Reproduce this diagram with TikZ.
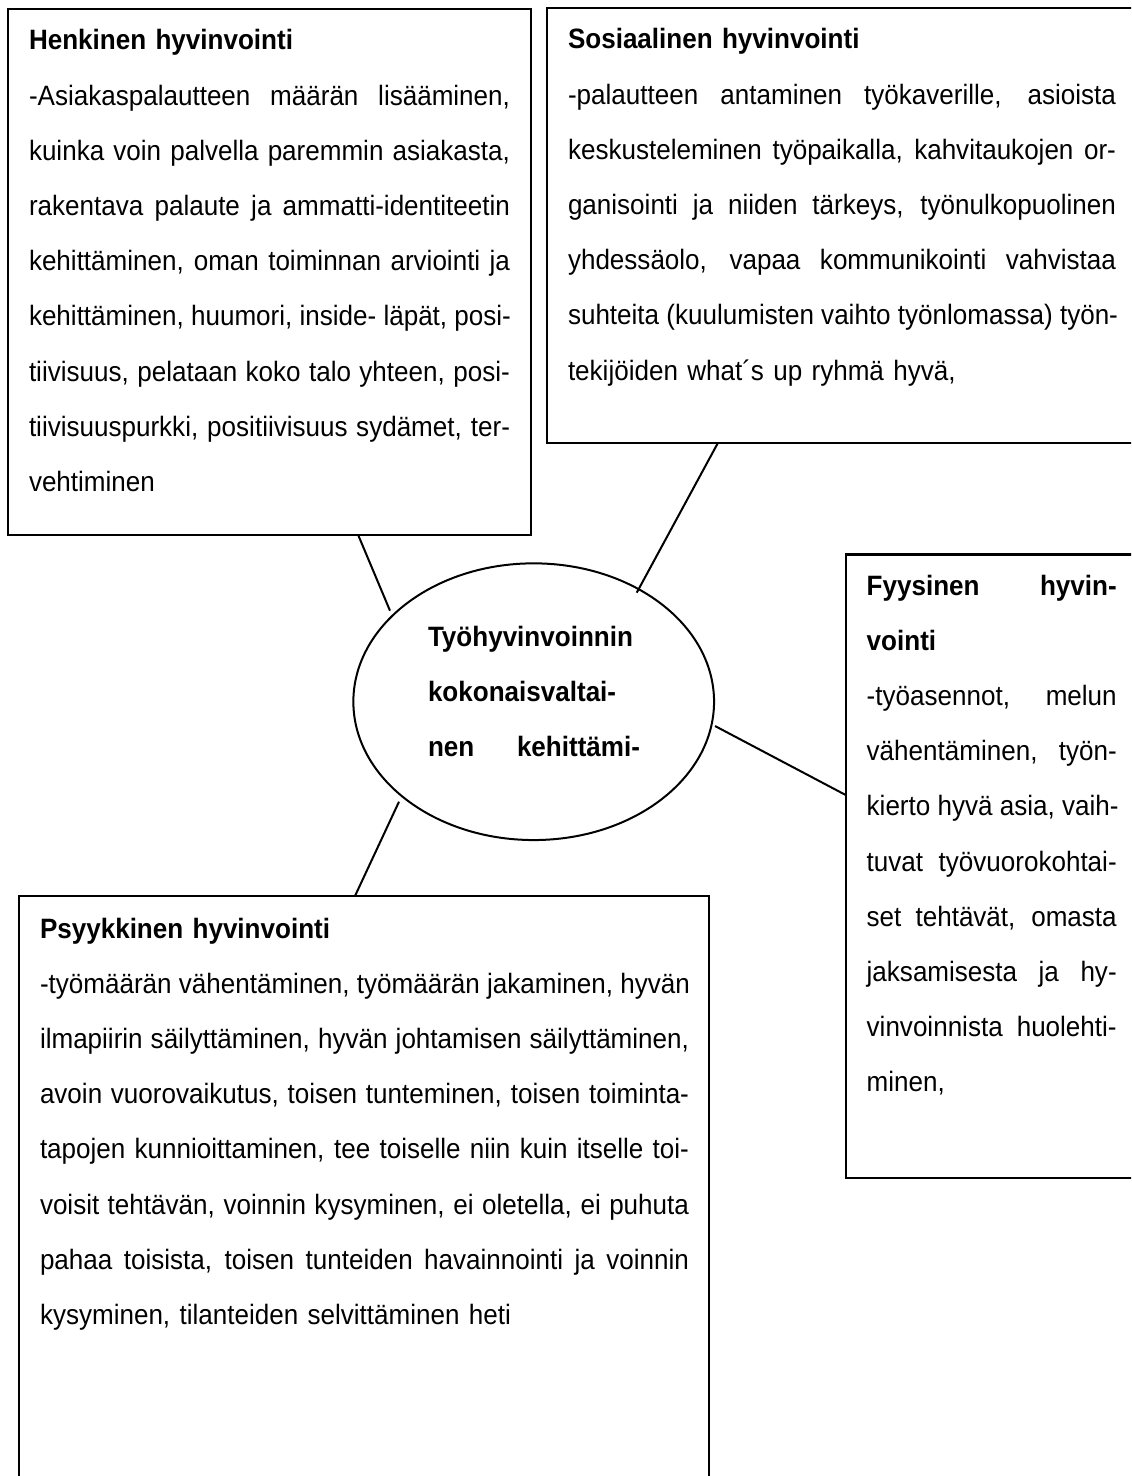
\documentclass[tikz,border=0pt]{standalone}
\usepackage{fontspec}
\setmainfont{Liberation Sans}[FakeStretch=0.93]
\usetikzlibrary{shapes.geometric,calc}
\newlength\LW
\newcommand\JL[1]{\hbox to\LW{\spaceskip=\fontdimen2\font plus 1fil\relax\xspaceskip=\spaceskip #1}}
\newcommand\LL[1]{\hbox{#1}}
\newcommand\FL[1]{\hbox{\rule{0pt}{14pt}#1}}
\newcommand\FJ[1]{\hbox to\LW{\rule{0pt}{14pt}\spaceskip=\fontdimen2\font plus 1fil\relax\xspaceskip=\spaceskip #1}}
\tikzset{
  box/.style={draw, line width=1.1pt, rectangle, anchor=north west, inner sep=0pt, outer sep=0pt},
  txt/.style={anchor=north west, inner sep=0pt, outer sep=0pt, font=\fontsize{14pt}{27.6pt}\selectfont},
  link/.style={line width=1pt},
}
\begin{document}
\begin{tikzpicture}[x=0.5pt,y=-0.5pt]
\useasboundingbox (0,0) rectangle (1131,1476);
\clip (0,0) rectangle (1131,1476);
\fill[white] (0,0) rectangle (1131,1476);

% boxes
\node[box, minimum width=261.35pt, minimum height=263.15pt] (hb) at (8,9) {};
\node[box, minimum width=296.65pt, minimum height=217.65pt] (sb) at (546.7,8) {};
\node[box, minimum width=147.15pt, minimum height=311.75pt] (fb) at (845.7,554.5) {};
\node[box, minimum width=345.15pt, minimum height=302pt] (pb) at (19,896) {};
\node[draw, ellipse, line width=1pt, minimum width=180.35pt, minimum height=138.35pt, inner sep=0pt] (c) at (533.7,701.7) {};

% texts
\node[txt, text width=240.5pt] (ht) at (29,22) {\LW=240.5pt\relax
\FL{\textbf{Henkinen hyvinvointi}}
\JL{-Asiakaspalautteen määrän lisääminen,}
\JL{kuinka voin palvella paremmin asiakasta,}
\JL{rakentava palaute ja ammatti-identiteetin}
\JL{kehittäminen, oman toiminnan arviointi ja}
\JL{kehittäminen, huumori, inside- läpät, posi-}
\JL{tiivisuus, pelataan koko talo yhteen, posi-}
\JL{tiivisuuspurkki, positiivisuus sydämet, ter-}
\LL{vehtiminen}};

\node[txt, text width=274pt] (st) at (568,21) {\LW=274pt\relax
\FL{\textbf{Sosiaalinen hyvinvointi}}
\JL{-palautteen antaminen työkaverille, asioista}
\JL{keskusteleminen työpaikalla, kahvitaukojen or-}
\JL{ganisointi ja niiden tärkeys, työnulkopuolinen}
\JL{yhdessäolo, vapaa kommunikointi vahvistaa}
\JL{suhteita (kuulumisten vaihto työnlomassa) työn-}
\LL{tekijöiden what´s up ryhmä hyvä,}};

\node[txt, text width=125pt] (ft) at (866.7,567) {\LW=125pt\relax
\FJ{\textbf{Fyysinen hyvin-}}
\LL{\textbf{vointi}}
\JL{-työasennot, melun}
\JL{vähentäminen, työn-}
\JL{kierto hyvä asia, vaih-}
\JL{tuvat työvuorokohtai-}
\JL{set tehtävät, omasta}
\JL{jaksamisesta ja hy-}
\JL{vinvoinnista huolehti-}
\LL{minen,}};

\node[txt, text width=324.5pt] (pt) at (40,910) {\LW=324.5pt\relax
\FL{\textbf{Psyykkinen hyvinvointi}}
\JL{-työmäärän vähentäminen, työmäärän jakaminen, hyvän}
\JL{ilmapiirin säilyttäminen, hyvän johtamisen säilyttäminen,}
\JL{avoin vuorovaikutus, toisen tunteminen, toisen toiminta-}
\JL{tapojen kunnioittaminen, tee toiselle niin kuin itselle toi-}
\JL{voisit tehtävän, voinnin kysyminen, ei oletella, ei puhuta}
\JL{pahaa toisista, toisen tunteiden havainnointi ja voinnin}
\LL{kysyminen, tilanteiden selvittäminen heti}};

\node[txt, text width=106pt, font=\fontsize{14pt}{27.5pt}\selectfont\bfseries] (ct) at (428,618) {\LW=106pt\relax
\FL{Työhyvinvoinnin}
\LL{kokonaisvaltai-}
\JL{nen kehittämi-}};

% connectors
\draw[link] ($(hb.south west)+(350.3,0)$) -- ($(c.center)+(-143.7,-91)$);
\draw[link] ($(sb.south west)+(171,0)$) -- ($(c.center)+(103,-109)$);
\draw[link] ($(c.center)+(181.3,24.3)$) -- ($(fb.north west)+(0,240.5)$);
\draw[link] ($(pb.north west)+(336,0)$) -- ($(c.center)+(-134.7,100)$);
\end{tikzpicture}
\end{document}
